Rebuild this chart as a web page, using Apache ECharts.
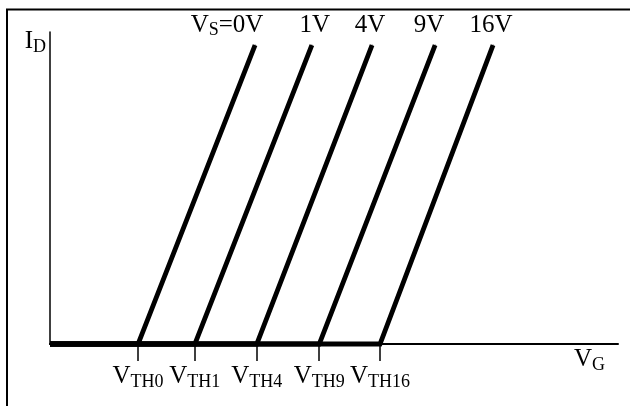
<!DOCTYPE html>
<html>
<head>
<meta charset="utf-8">
<script src="https://cdn.jsdelivr.net/npm/echarts@6/dist/echarts.min.js"></script>
<style>
  html, body { margin: 0; padding: 0; background: #fff; }
  #chart { width: 630px; height: 406px; }
</style>
</head>
<body>
<div id="chart"></div>
<script>
// source voltages (curve labels)
const vsNames = ["0V", "1V", "4V", "9V", "16V"];
// threshold voltage of each curve on the VG axis (arbitrary units)
const vth = [1.55, 2.55, 3.64, 4.74, 5.81];
// VG where each curve leaves the top of the plot
const vgTop = [3.61, 4.61, 5.67, 6.78, 7.8];
// ID at the top end of each curve
const idTop = [9.58, 9.58, 9.58, 9.58, 9.58];
// tick label subscripts
const thLabels = ["TH0", "TH1", "TH4", "TH9", "TH16"];

const serif = "Liberation Serif";
const labelDx = [-28, 3, -2, -6, -2];

// big letter + lowered subscript
const richText = {
  v: { fontFamily: serif, fontSize: 25, color: "#000", lineHeight: 26, verticalAlign: "top" },
  s: { fontFamily: serif, fontSize: 18, color: "#000", lineHeight: 18, verticalAlign: "top", padding: [9, 0, 0, 0] },
};

const chart = echarts.init(document.getElementById("chart"));

const series = vsNames.map((name, i) => ({
  name: name,
  type: "line",
  clip: false,
  symbol: "circle",
  symbolSize: 1,
  showSymbol: true,
  silent: true,
  itemStyle: { color: "#000" },
  lineStyle: { color: "#000", width: 4.8, cap: "butt", join: "miter" },
  data: [
    [0, 0],
    [vth[i], 0],
    {
      value: [vgTop[i], idTop[i]],
      label: {
        show: true,
        position: "top",
        distance: 6,
        offset: [labelDx[i], 0],
        formatter: i === 0 ? "{v|V}{s|S}{v|=" + name + "}" : "{v|" + name + "}",
        rich: richText,
      },
    },
  ],
}));

chart.setOption({
  animation: false,
  backgroundColor: "#fff",
  grid: { left: 50, right: 12, top: 32, bottom: 62 },
  xAxis: {
    type: "value",
    min: 0,
    max: 10,
    name: "{v|V}{s|G}",
    nameLocation: "end",
    nameGap: -13,
    nameTextStyle: {
      align: "right",
      verticalAlign: "top",
      padding: [3, 0, 0, 0],
      rich: richText,
    },
    axisLine: { show: true, lineStyle: { color: "#000", width: 2 } },
    axisTick: { show: true, customValues: vth, length: 17, lineStyle: { color: "#000", width: 1.5 } },
    axisLabel: {
      show: true,
      customValues: vth,
      margin: 20,
      formatter: (val) => {
        let k = 0;
        vth.forEach((v, j) => { if (Math.abs(v - val) < Math.abs(vth[k] - val)) k = j; });
        return "{v|V}{s|" + thLabels[k] + "}";
      },
      rich: richText,
    },
    splitLine: { show: false },
  },
  yAxis: {
    type: "value",
    min: 0,
    max: 10,
    name: "{v|I}{s|D}",
    nameLocation: "end",
    nameGap: 3,
    nameTextStyle: {
      align: "right",
      verticalAlign: "top",
      padding: [0, 4, 0, 0],
      rich: richText,
    },
    axisLine: { show: true, lineStyle: { color: "#000", width: 1.5 } },
    axisTick: { show: false },
    axisLabel: { show: false },
    splitLine: { show: false },
  },
  graphic: [
    {
      type: "polyline",
      shape: { points: [[7, 406], [7, 9.5], [630, 9.5]] },
      style: { stroke: "#000", lineWidth: 2, fill: null },
      silent: true,
    },
  ],
  series: series,
});
</script>
</body>
</html>
